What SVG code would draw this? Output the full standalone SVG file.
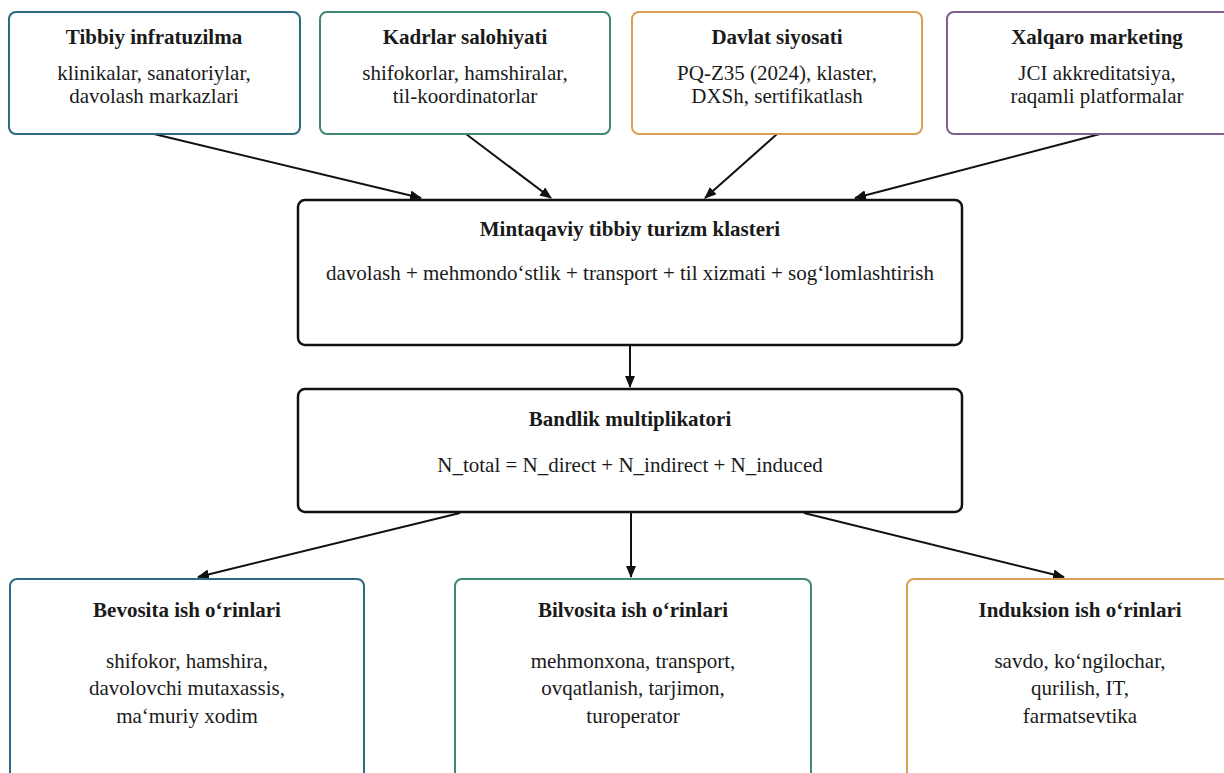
<svg xmlns="http://www.w3.org/2000/svg" width="1224" height="773" viewBox="0 0 1224 773">
<defs>
<marker id="ah" markerWidth="12" markerHeight="10" refX="11" refY="5" orient="auto" markerUnits="userSpaceOnUse">
<path d="M0,0 L12,5 L0,10 z" fill="#111"/>
</marker>
<style>
text{fill:#1a1a1a;text-anchor:middle}
.t{font-size:21px;font-weight:bold}
.b{font-size:21px}
.box{fill:#fff;stroke-width:2}
.blue{stroke:#2f6a85}
.green{stroke:#3f8a6e}
.orange{stroke:#d9a055}
.purple{stroke:#7d5f91}
.main{fill:#fff;stroke:#111;stroke-width:2.5}
.c{stroke:#111;stroke-width:2;fill:none;marker-end:url(#ah)}
</style>
</defs>
<rect width="1224" height="773" fill="#fff"/>
<g id="connectors">
<line class="c" x1="154" y1="134" x2="421" y2="198"/>
<line class="c" x1="466" y1="134" x2="551" y2="198"/>
<line class="c" x1="777" y1="134" x2="705" y2="198"/>
<line class="c" x1="1100" y1="134" x2="855" y2="198"/>
<line class="c" x1="630" y1="345" x2="630" y2="387"/>
<line class="c" x1="460" y1="513" x2="198" y2="577"/>
<line class="c" x1="631" y1="513" x2="631" y2="577"/>
<line class="c" x1="804" y1="513" x2="1064" y2="577"/>
</g>
<g id="n1">
<rect class="box blue" x="9" y="12" width="291" height="122" rx="7"/>
<text class="t" font-family="Liberation Serif" x="154" y="44">Tibbiy infratuzilma</text>
<text class="b" font-family="Liberation Serif" x="154" y="80">klinikalar, sanatoriylar,</text>
<text class="b" font-family="Liberation Serif" x="154" y="103">davolash markazlari</text>
</g>
<g id="n2">
<rect class="box green" x="320" y="12" width="290" height="122" rx="7"/>
<text class="t" font-family="Liberation Serif" x="465" y="44">Kadrlar salohiyati</text>
<text class="b" font-family="Liberation Serif" x="465" y="80">shifokorlar, hamshiralar,</text>
<text class="b" font-family="Liberation Serif" x="465" y="103">til-koordinatorlar</text>
</g>
<g id="n3">
<rect class="box orange" x="632" y="12" width="290" height="122" rx="7"/>
<text class="t" font-family="Liberation Serif" x="777" y="44">Davlat siyosati</text>
<text class="b" font-family="Liberation Serif" x="777" y="80">PQ-Z35 (2024), klaster,</text>
<text class="b" font-family="Liberation Serif" x="777" y="103">DXSh, sertifikatlash</text>
</g>
<g id="n4">
<rect class="box purple" x="947" y="12" width="300" height="122" rx="7"/>
<text class="t" font-family="Liberation Serif" x="1097" y="44">Xalqaro marketing</text>
<text class="b" font-family="Liberation Serif" x="1097" y="80">JCI akkreditatsiya,</text>
<text class="b" font-family="Liberation Serif" x="1097" y="103">raqamli platformalar</text>
</g>
<g id="n5">
<rect class="main" x="298" y="200" width="664" height="145" rx="7"/>
<text class="t" font-family="Liberation Serif" x="630" y="236">Mintaqaviy tibbiy turizm klasteri</text>
<text class="b" font-family="Liberation Serif" x="630" y="280">davolash + mehmondo‘stlik + transport + til xizmati + sog‘lomlashtirish</text>
</g>
<g id="n6">
<rect class="main" x="298" y="389" width="664" height="123" rx="7"/>
<text class="t" font-family="Liberation Serif" x="630" y="426">Bandlik multiplikatori</text>
<text class="b" font-family="Liberation Serif" x="630" y="472">N_total = N_direct + N_indirect + N_induced</text>
</g>
<g id="n7">
<rect class="box blue" x="10" y="579" width="354" height="210" rx="7"/>
<text class="t" font-family="Liberation Serif" x="187" y="617">Bevosita ish o‘rinlari</text>
<text class="b" font-family="Liberation Serif" x="187" y="668">shifokor, hamshira,</text>
<text class="b" font-family="Liberation Serif" x="187" y="695">davolovchi mutaxassis,</text>
<text class="b" font-family="Liberation Serif" x="187" y="723">ma‘muriy xodim</text>
</g>
<g id="n8">
<rect class="box green" x="455" y="579" width="356" height="210" rx="7"/>
<text class="t" font-family="Liberation Serif" x="633" y="617">Bilvosita ish o‘rinlari</text>
<text class="b" font-family="Liberation Serif" x="633" y="668">mehmonxona, transport,</text>
<text class="b" font-family="Liberation Serif" x="633" y="695">ovqatlanish, tarjimon,</text>
<text class="b" font-family="Liberation Serif" x="633" y="723">turoperator</text>
</g>
<g id="n9">
<rect class="box orange" x="907" y="579" width="340" height="210" rx="7"/>
<text class="t" font-family="Liberation Serif" x="1080" y="617">Induksion ish o‘rinlari</text>
<text class="b" font-family="Liberation Serif" x="1080" y="668">savdo, ko‘ngilochar,</text>
<text class="b" font-family="Liberation Serif" x="1080" y="695">qurilish, IT,</text>
<text class="b" font-family="Liberation Serif" x="1080" y="723">farmatsevtika</text>
</g>
</svg>
